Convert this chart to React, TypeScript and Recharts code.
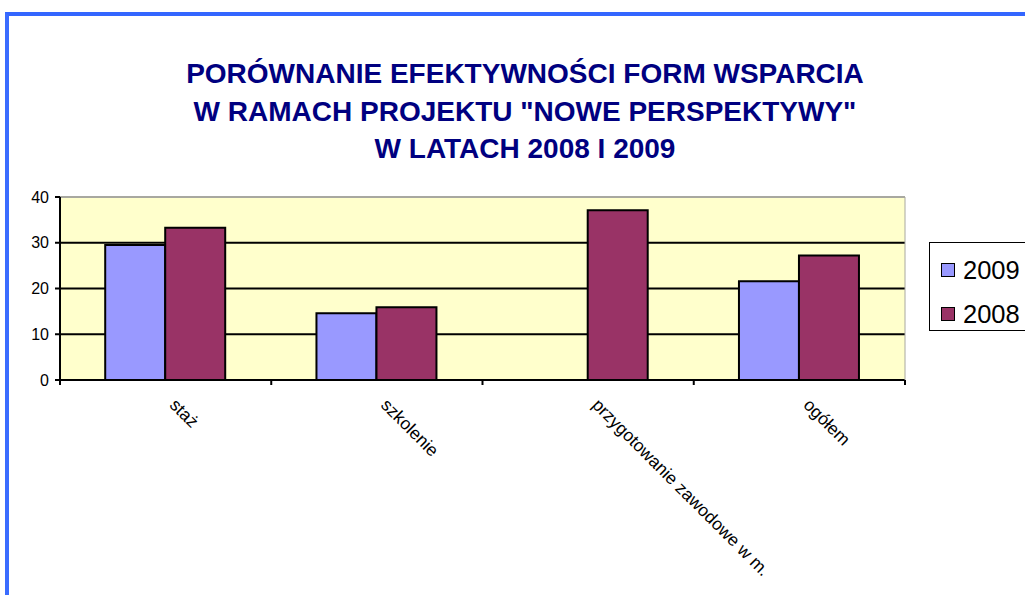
import { BarChart, Bar, XAxis, YAxis, CartesianGrid, Legend, ReferenceLine } from "recharts";

const categories = ["staż", "szkolenie", "przygotowanie zawodowe w m.", "ogółem"];
const values2009 = [29.5, 14.6, null, 21.6];
const values2008 = [33.3, 15.9, 37.1, 27.2];
const seriesNames = ["2009", "2008"];
const yTicks = [0, 10, 20, 30, 40];
const gridValues = [10, 20, 30];
const titleLines = [
  "PORÓWNANIE EFEKTYWNOŚCI FORM WSPARCIA",
  'W RAMACH PROJEKTU "NOWE PERSPEKTYWY"',
  "W LATACH 2008 I 2009",
];

const FONT = "'Liberation Sans', Arial, sans-serif";
const C2009 = "#9999FF";
const C2008 = "#993366";

const data = categories.map((cat, i) => ({
  cat,
  y2009: values2009[i],
  y2008: values2008[i],
}));

// excel-style tick: rotated label at the category, tick marks at band boundaries
function CategoryTick(props: any) {
  const { x, y, payload, index } = props;
  const half = payload && payload.offset ? payload.offset : 105.6;
  const last = index === categories.length - 1;
  return (
    <g>
      <line x1={x - half} y1={y} x2={x - half} y2={y + 5} stroke="#000" strokeWidth={2} />
      {last && <line x1={x + half} y1={y} x2={x + half} y2={y + 5} stroke="#000" strokeWidth={2} />}
      <text
        transform={`translate(${x + 3}, ${y + 26}) rotate(45)`}
        textAnchor="start"
        fontSize={17.5}
        fontFamily={FONT}
        fill="#000"
      >
        {payload.value}
      </text>
    </g>
  );
}

function LegendBox(props: any) {
  const items = [...(props.payload || [])].sort(
    (a: any, b: any) => seriesNames.indexOf(a.value) - seriesNames.indexOf(b.value)
  );
  return (
    <div
      style={{
        width: 110,
        height: 89,
        border: "1.5px solid #000",
        background: "#fff",
        boxSizing: "border-box",
        position: "relative",
      }}
    >
      {items.map((it: any, i: number) => (
        <div
          key={it.value}
          style={{
            position: "absolute",
            left: 11,
            top: 13 + i * 44,
            display: "flex",
            alignItems: "center",
            fontFamily: FONT,
            fontSize: 25.5,
            lineHeight: "28px",
            color: "#000",
          }}
        >
          <span
            style={{
              display: "inline-block",
              width: 14,
              height: 14,
              background: it.color,
              border: "1.5px solid #000",
              boxSizing: "border-box",
              marginRight: 8,
            }}
          />
          {it.value}
        </div>
      ))}
    </div>
  );
}

export default function App() {
  return (
    <div
      style={{
        position: "absolute",
        left: 0,
        top: 0,
        width: 1025,
        height: 595,
        background: "#fff",
        overflow: "hidden",
      }}
    >
      <div
        style={{
          position: "absolute",
          left: 5,
          top: 12,
          width: 1200,
          height: 800,
          borderTop: "4px solid #3366FF",
          borderLeft: "4px solid #3A6CFF",
        }}
      />
      <div
        style={{
          position: "absolute",
          left: 0,
          width: 1050,
          top: 55,
          textAlign: "center",
          fontFamily: FONT,
          fontWeight: "bold",
          fontSize: 28,
          lineHeight: "37.5px",
          color: "#000080",
        }}
      >
        {titleLines.map((l) => (
          <div key={l}>{l}</div>
        ))}
      </div>
      <div style={{ position: "absolute", left: 0, top: 0 }}>
        <BarChart
          width={1025}
          height={595}
          data={data}
          margin={{ top: 197, right: 119, bottom: 214, left: 0 }}
          barCategoryGap="21.4%"
          barGap={0}
        >
          <CartesianGrid
            vertical={false}
            fill="#FFFFCC"
            fillOpacity={1}
            stroke="#000"
            strokeWidth={2}
            horizontalValues={gridValues}
          />
          <ReferenceLine y={40} stroke="#A8A8A0" strokeWidth={2} />
          <XAxis
            dataKey="cat"
            height={1}
            interval={0}
            tickSize={0}
            tickMargin={0}
            tickLine={false}
            axisLine={{ stroke: "#000", strokeWidth: 2 }}
            tick={<CategoryTick />}
          />
          <YAxis
            width={60}
            domain={[0, 40]}
            ticks={yTicks}
            interval={0}
            tickSize={5}
            tickMargin={6}
            axisLine={{ stroke: "#000", strokeWidth: 2 }}
            tickLine={{ stroke: "#000", strokeWidth: 2 }}
            tick={{ fontSize: 16, fill: "#000", fontFamily: FONT }}
          />
          <YAxis
            yAxisId="right"
            orientation="right"
            width={1}
            domain={[0, 40]}
            tick={false}
            tickLine={false}
            axisLine={{ stroke: "#A8A8A0", strokeWidth: 1 }}
          />
          <Legend
            layout="vertical"
            align="center"
            verticalAlign="middle"
            wrapperStyle={{ left: 929, top: 242, width: 110, height: 89 }}
            content={<LegendBox />}
          />
          <Bar dataKey="y2009" name="2009" fill={C2009} stroke="#000" strokeWidth={2} isAnimationActive={false} />
          <Bar dataKey="y2008" name="2008" fill={C2008} stroke="#000" strokeWidth={2} isAnimationActive={false} />
        </BarChart>
      </div>
    </div>
  );
}
